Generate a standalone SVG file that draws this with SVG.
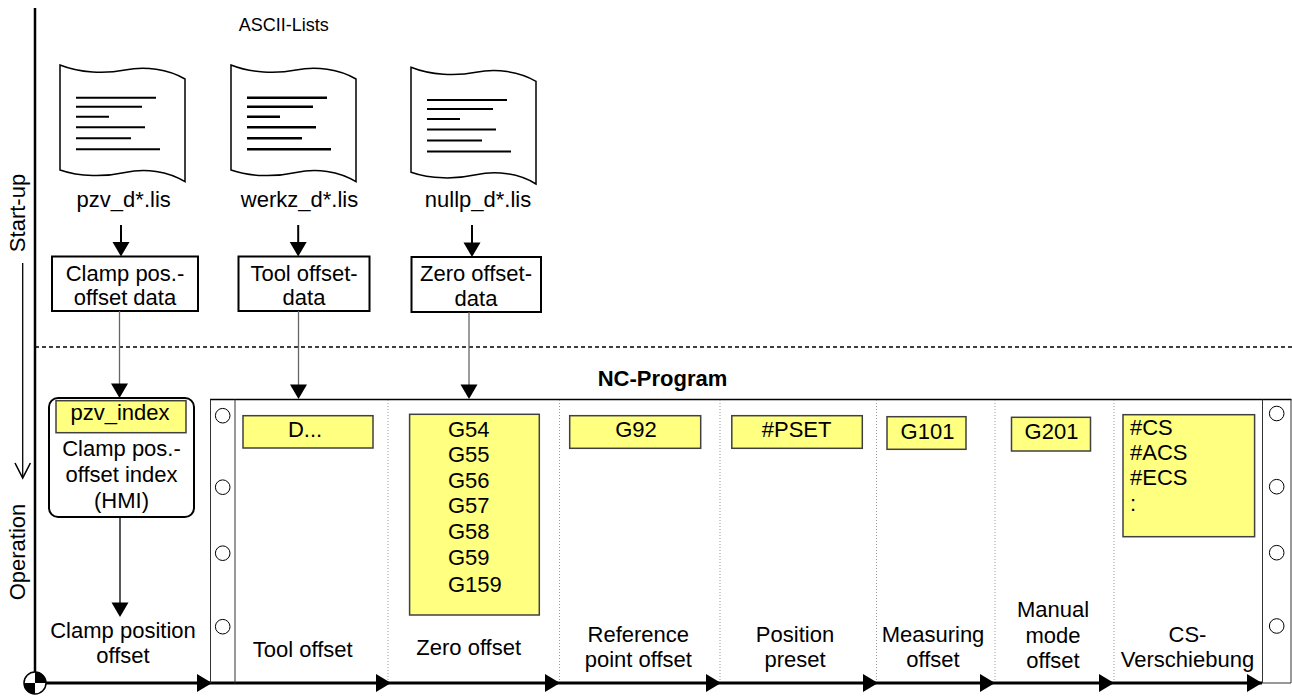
<svg xmlns="http://www.w3.org/2000/svg" xmlns:xlink="http://www.w3.org/1999/xlink" width="1292" height="698" viewBox="0 0 1292 698">
<style>
text{font-family:"Liberation Sans",Arial,sans-serif;font-size:22px;fill:#000}
.c{text-anchor:middle}
.small{font-size:18px}
.bold{font-weight:bold}
.doc{fill:#fff;stroke:#000;stroke-width:1.5}
.dl{stroke:#000;stroke-width:2}
.box{fill:#fff;stroke:#000;stroke-width:2}
.yel{fill:#ffff80;stroke:#404040;stroke-width:1.5}
.thick{stroke:#000;stroke-width:2;fill:none}
.thin{stroke:#666;stroke-width:1.3;fill:none}
.blk{stroke:#000;stroke-width:1.3;fill:none}
.ah{fill:#000}
.sep{stroke:#999;stroke-width:1;stroke-dasharray:1 2}
.strip{stroke:#333;stroke-width:1;fill:none}
.hole{fill:#fff;stroke:#000;stroke-width:1}
</style>
<defs>
<path id="docshape" d="M0,0 C20,8 45,9 65,5 C85,1 108,4 125,14 L125,116.7 C108,106 85,103 65,107.5 C45,112 20,112 0,105 Z"/>
<g id="doclines">
<line x1="16" y1="32.7" x2="96" y2="32.7"/>
<line x1="16" y1="41.7" x2="82" y2="41.7"/>
<line x1="16" y1="51.7" x2="49" y2="51.7"/>
<line x1="16" y1="62.3" x2="85" y2="62.3"/>
<line x1="16" y1="73.3" x2="71" y2="73.3"/>
<line x1="16" y1="84.3" x2="100" y2="84.3"/>
</g>
</defs>

<g id="axes">
<line x1="35" y1="8" x2="35" y2="683" stroke="#000" stroke-width="2.5"/>
<line x1="35" y1="347" x2="1292" y2="347" stroke="#000" stroke-width="1.3" stroke-dasharray="4 3"/>
<line x1="22.7" y1="263" x2="22.7" y2="477" stroke="#000" stroke-width="1.3"/>
<polyline points="15,463 22.7,478 30.4,463" fill="none" stroke="#000" stroke-width="1.6"/>
<text class="c" transform="translate(24.5,213) rotate(-90)">Start-up</text>
<text class="c" transform="translate(24.5,552) rotate(-90)">Operation</text>
<line x1="35" y1="683" x2="1262" y2="683" stroke="#000" stroke-width="3"/>
<g class="ah">
<polygon points="212,683 197,674 197,692"/>
<polygon points="391,683 376,674 376,692"/>
<polygon points="560,683 545,674 545,692"/>
<polygon points="721,683 706,674 706,692"/>
<polygon points="878,683 863,674 863,692"/>
<polygon points="995,683 980,674 980,692"/>
<polygon points="1114,683 1099,674 1099,692"/>
<polygon points="1262,683 1247,674 1247,692"/>
</g>
<g id="origin">
<circle cx="35" cy="683" r="11" fill="#fff" stroke="#000" stroke-width="1.5"/>
<path d="M35,683 L46,683 A11,11 0 0 0 35,672 Z" fill="#000"/>
<path d="M35,683 L24,683 A11,11 0 0 0 35,694 Z" fill="#000"/>
</g>
</g>

<text class="c small" x="283.7" y="30.7">ASCII-Lists</text>

<g id="doc-pzv" transform="translate(60,65)">
<use xlink:href="#docshape" class="doc"/>
<use xlink:href="#doclines" class="dl"/>
</g>
<text class="c" x="123.7" y="206.7">pzv_d*.lis</text>

<g id="doc-werkz" transform="translate(231,65)">
<use xlink:href="#docshape" class="doc"/>
<use xlink:href="#doclines" class="dl" style="stroke-width:2.6"/>
</g>
<text class="c" x="299.5" y="206.7">werkz_d*.lis</text>

<g id="doc-nullp" transform="translate(411,67.3)">
<use xlink:href="#docshape" class="doc"/>
<use xlink:href="#doclines" class="dl"/>
</g>
<text class="c" x="478" y="206.7">nullp_d*.lis</text>

<g id="box-clamp">
<rect class="box" x="52" y="256.5" width="146" height="54.5"/>
<text class="c" x="125" y="280.5">Clamp pos.-</text>
<text class="c" x="125" y="305">offset data</text>
</g>
<g id="box-tool">
<rect class="box" x="238.5" y="256.5" width="131" height="54.5"/>
<text class="c" x="304" y="280.5">Tool offset-</text>
<text class="c" x="304" y="305">data</text>
</g>
<g id="box-zero">
<rect class="box" x="411.5" y="257" width="129.5" height="55"/>
<text class="c" x="476" y="281">Zero offset-</text>
<text class="c" x="476" y="305.5">data</text>
</g>

<g id="hmi">
<rect class="box" x="49" y="398" width="145" height="119" rx="9" ry="9"/>
<rect class="yel" x="56" y="400.7" width="130" height="32"/>
<text class="c" x="120" y="420">pzv_index</text>
<text class="c" x="121.5" y="456">Clamp pos.-</text>
<text class="c" x="121.5" y="482">offset index</text>
<text class="c" x="121.5" y="507.5">(HMI)</text>
</g>

<g id="clamp-position-offset">
<text class="c" x="123" y="638">Clamp position</text>
<text class="c" x="123" y="662.5">offset</text>
</g>

<g id="nc-program">
<text class="c bold" x="662.5" y="385.5">NC-Program</text>
<line x1="210" y1="399.5" x2="1291.5" y2="399.5" stroke="#000" stroke-width="1.5"/>
<line class="strip" x1="210.5" y1="399.5" x2="210.5" y2="683"/>
<line class="strip" x1="235" y1="399.5" x2="235" y2="683"/>
<line class="strip" x1="1262.5" y1="399.5" x2="1262.5" y2="683"/>
<line class="strip" x1="1291" y1="399.5" x2="1291" y2="683"/>
<line class="strip" x1="1262" y1="683" x2="1291" y2="683"/>
<circle class="hole" cx="222.7" cy="415.7" r="7.3"/>
<circle class="hole" cx="222.7" cy="487.2" r="7.3"/>
<circle class="hole" cx="222.7" cy="553.2" r="7.3"/>
<circle class="hole" cx="222.7" cy="626.7" r="7.3"/>
<circle class="hole" cx="1276.7" cy="413.5" r="7.3"/>
<circle class="hole" cx="1276.7" cy="486.7" r="7.3"/>
<circle class="hole" cx="1276.7" cy="552.7" r="7.3"/>
<circle class="hole" cx="1276.7" cy="626" r="7.3"/>
<line class="sep" x1="388" y1="400" x2="388" y2="682"/>
<line class="sep" x1="559.5" y1="400" x2="559.5" y2="682"/>
<line class="sep" x1="720" y1="400" x2="720" y2="682"/>
<line class="sep" x1="876.5" y1="400" x2="876.5" y2="682"/>
<line class="sep" x1="995" y1="400" x2="995" y2="682"/>
<line class="sep" x1="1114" y1="400" x2="1114" y2="682"/>
</g>

<g id="col-tool">
<rect class="yel" x="243" y="415.7" width="130" height="32.3"/>
<text class="c" x="305" y="437.3">D...</text>
<text class="c" x="302.7" y="656.7">Tool offset</text>
</g>
<g id="col-zero">
<rect class="yel" x="409.6" y="414.3" width="129.7" height="200.7"/>
<text x="448" y="436.7">G54</text>
<text x="448" y="462">G55</text>
<text x="448" y="487.5">G56</text>
<text x="448" y="513.3">G57</text>
<text x="448" y="539.2">G58</text>
<text x="448" y="565">G59</text>
<text x="448" y="591.5">G159</text>
<text class="c" x="468.7" y="655">Zero offset</text>
</g>
<g id="col-ref">
<rect class="yel" x="569.7" y="415.7" width="131" height="32.6"/>
<text class="c" x="636" y="436.7">G92</text>
<text class="c" x="638.3" y="641.7">Reference</text>
<text class="c" x="638.3" y="666.7">point offset</text>
</g>
<g id="col-preset">
<rect class="yel" x="731.8" y="415.7" width="130.5" height="32.6"/>
<text class="c" x="796.6" y="436.7">#PSET</text>
<text class="c" x="795" y="641.7">Position</text>
<text class="c" x="795" y="666.7">preset</text>
</g>
<g id="col-measuring">
<rect class="yel" x="887" y="416.7" width="79" height="32.6"/>
<text class="c" x="927.5" y="439">G101</text>
<text class="c" x="933" y="641.7">Measuring</text>
<text class="c" x="933" y="666.7">offset</text>
</g>
<g id="col-manual">
<rect class="yel" x="1011.5" y="417.3" width="79" height="33.7"/>
<text class="c" x="1051.5" y="439">G201</text>
<text class="c" x="1053" y="617">Manual</text>
<text class="c" x="1053" y="643">mode</text>
<text class="c" x="1053" y="668">offset</text>
</g>
<g id="col-cs">
<rect class="yel" x="1123" y="414.7" width="131.6" height="122"/>
<text x="1130" y="435">#CS</text>
<text x="1130" y="460">#ACS</text>
<text x="1130" y="485">#ECS</text>
<text x="1130" y="510.5">:</text>
<text class="c" x="1187.5" y="641.7">CS-</text>
<text class="c" x="1187.5" y="666.7">Verschiebung</text>
</g>

<g id="connectors">
<line class="thick" x1="121" y1="225" x2="121" y2="243"/>
<polygon class="ah" points="121,256.5 112.5,242 129.5,242"/>
<line class="thick" x1="298.2" y1="225" x2="298.2" y2="243"/>
<polygon class="ah" points="298.2,256.5 289.7,242 306.7,242"/>
<line class="thick" x1="472" y1="225" x2="472" y2="243"/>
<polygon class="ah" points="472,257 463.5,242.5 480.5,242.5"/>
<line class="thin" x1="119.5" y1="311" x2="119.5" y2="384"/>
<polygon class="ah" points="119.5,398 111,383.5 128,383.5"/>
<line class="thin" x1="298.5" y1="311" x2="298.5" y2="385"/>
<polygon class="ah" points="298.5,399 290,384.5 307,384.5"/>
<line class="thin" x1="469" y1="312" x2="469" y2="385"/>
<polygon class="ah" points="469,399 460.5,384.5 477.5,384.5"/>
<line class="blk" x1="120" y1="517" x2="120" y2="603"/>
<polygon class="ah" points="120,617 111.5,602.5 128.5,602.5"/>
</g>
</svg>
